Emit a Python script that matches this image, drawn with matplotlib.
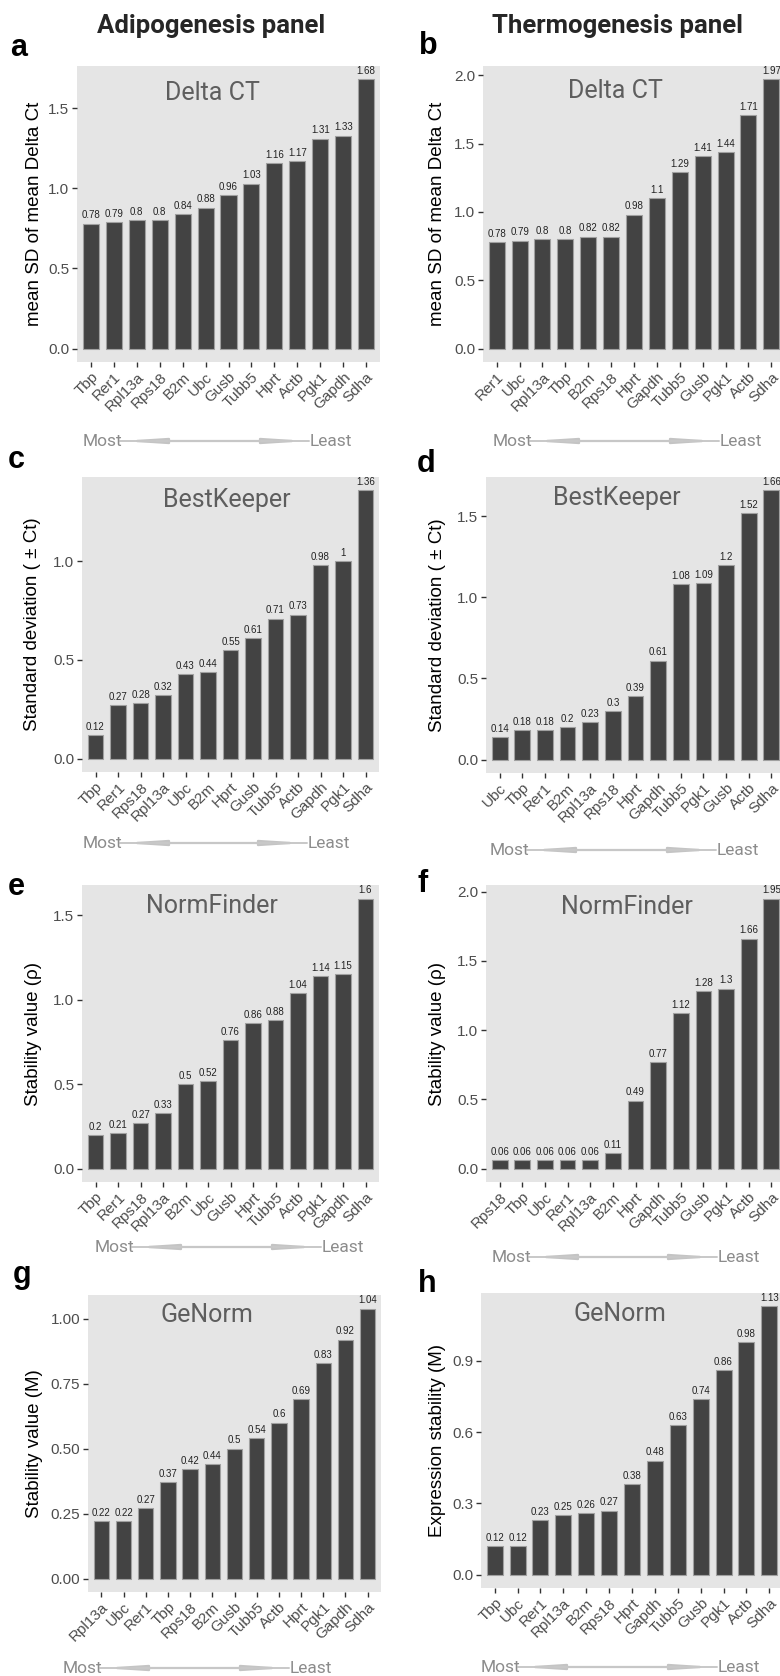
import matplotlib
matplotlib.use("Agg")
import matplotlib.pyplot as plt
from matplotlib.patches import FancyArrowPatch
import numpy as np

W, H = 780, 1676

# ---- data ----
genes_a = ['Tbp', 'Rer1', 'Rpl13a', 'Rps18', 'B2m', 'Ubc', 'Gusb', 'Tubb5', 'Hprt', 'Actb', 'Pgk1', 'Gapdh', 'Sdha']
vals_a = [0.78, 0.79, 0.8, 0.8, 0.84, 0.88, 0.96, 1.03, 1.16, 1.17, 1.31, 1.33, 1.68]

genes_b = ['Rer1', 'Ubc', 'Rpl13a', 'Tbp', 'B2m', 'Rps18', 'Hprt', 'Gapdh', 'Tubb5', 'Gusb', 'Pgk1', 'Actb', 'Sdha']
vals_b = [0.78, 0.79, 0.8, 0.8, 0.82, 0.82, 0.98, 1.1, 1.29, 1.41, 1.44, 1.71, 1.97]

genes_c = ['Tbp', 'Rer1', 'Rps18', 'Rpl13a', 'Ubc', 'B2m', 'Hprt', 'Gusb', 'Tubb5', 'Actb', 'Gapdh', 'Pgk1', 'Sdha']
vals_c = [0.12, 0.27, 0.28, 0.32, 0.43, 0.44, 0.55, 0.61, 0.71, 0.73, 0.98, 1, 1.36]

genes_d = ['Ubc', 'Tbp', 'Rer1', 'B2m', 'Rpl13a', 'Rps18', 'Hprt', 'Gapdh', 'Tubb5', 'Pgk1', 'Gusb', 'Actb', 'Sdha']
vals_d = [0.14, 0.18, 0.18, 0.2, 0.23, 0.3, 0.39, 0.61, 1.08, 1.09, 1.2, 1.52, 1.66]

genes_e = ['Tbp', 'Rer1', 'Rps18', 'Rpl13a', 'B2m', 'Ubc', 'Gusb', 'Hprt', 'Tubb5', 'Actb', 'Pgk1', 'Gapdh', 'Sdha']
vals_e = [0.2, 0.21, 0.27, 0.33, 0.5, 0.52, 0.76, 0.86, 0.88, 1.04, 1.14, 1.15, 1.6]

genes_f = ['Rps18', 'Tbp', 'Ubc', 'Rer1', 'Rpl13a', 'B2m', 'Hprt', 'Gapdh', 'Tubb5', 'Gusb', 'Pgk1', 'Actb', 'Sdha']
vals_f = [0.06, 0.06, 0.06, 0.06, 0.06, 0.11, 0.49, 0.77, 1.12, 1.28, 1.3, 1.66, 1.95]

genes_g = ['Rpl13a', 'Ubc', 'Rer1', 'Tbp', 'Rps18', 'B2m', 'Gusb', 'Tubb5', 'Actb', 'Hprt', 'Pgk1', 'Gapdh', 'Sdha']
vals_g = [0.22, 0.22, 0.27, 0.37, 0.42, 0.44, 0.5, 0.54, 0.6, 0.69, 0.83, 0.92, 1.04]

genes_h = ['Tbp', 'Ubc', 'Rer1', 'Rpl13a', 'B2m', 'Rps18', 'Hprt', 'Gapdh', 'Tubb5', 'Gusb', 'Pgk1', 'Actb', 'Sdha']
vals_h = [0.12, 0.12, 0.23, 0.25, 0.26, 0.27, 0.38, 0.48, 0.63, 0.74, 0.86, 0.98, 1.13]

methods = ['Delta CT', 'Delta CT', 'BestKeeper', 'BestKeeper', 'NormFinder', 'NormFinder', 'GeNorm', 'GeNorm']
ylabels = ['mean SD of mean Delta Ct', 'mean SD of mean Delta Ct',
           'Standard deviation ( \u00b1 Ct)', 'Standard deviation ( \u00b1 Ct)',
           'Stability value (\u03c1)', 'Stability value (\u03c1)',
           'Stability value (M)', 'Expression stability (M)']
yticks_list = [[0, 0.5, 1.0, 1.5], [0, 0.5, 1.0, 1.5, 2.0],
               [0, 0.5, 1.0], [0, 0.5, 1.0, 1.5],
               [0, 0.5, 1.0, 1.5], [0, 0.5, 1.0, 1.5, 2.0],
               [0, 0.25, 0.5, 0.75, 1.0], [0, 0.3, 0.6, 0.9]]
yfmt = ['%.1f'] * 6 + ['%.2f', '%.1f']
letters = list('abcdefgh')

genes_all = [genes_a, genes_b, genes_c, genes_d, genes_e, genes_f, genes_g, genes_h]
vals_all = [vals_a, vals_b, vals_c, vals_d, vals_e, vals_f, vals_g, vals_h]

# panel boxes in pixels: left, right, top, bottom
boxes = [(77, 380, 66, 362), (483, 785, 66, 362),
         (82, 379, 477, 772), (486, 785, 477, 773),
         (82, 379, 885, 1182), (486, 785, 885, 1182),
         (88, 381, 1295, 1592), (481, 783, 1293, 1588)]
ylab_x = [35, 437, 33, 438, 33, 437, 35, 437]
# method title (center x, baseline y)
mtitle = [(212, 100), (615, 98), (227, 507), (617, 505), (212, 913), (627, 914), (207, 1322), (620, 1321)]
# letter (left x, baseline y)
letter_pos = [(10, 56), (419, 54), (8, 468), (417, 472), (8, 895), (417, 892), (13, 1283), (418, 1292)]
# most / least: most left x, least left x, baseline y
ml = [(83, 310, 446), (493, 720, 446), (83, 308, 848), (490, 717, 855),
      (95, 322, 1252), (492, 718, 1262), (63, 290, 1673), (481, 718, 1672)]

fig = plt.figure(figsize=(W / 100, H / 100), dpi=100)

def fx(x):
    return x / W

def fy(y):
    return 1 - y / H

sans = ['Liberation Sans', 'DejaVu Sans']
rob = ['Roboto', 'DejaVu Sans']

for i in range(8):
    l, r, t, b = boxes[i]
    ax = fig.add_axes([fx(l), fy(b), (r - l) / W, (b - t) / H])
    g = genes_all[i]
    v = np.array(vals_all[i])
    x = np.arange(len(g))
    ax.set_facecolor('#E5E5E5')
    ax.bar(x, v, width=0.7, color='#434343', edgecolor='#A0A0A0', linewidth=0.8, zorder=2)
    for xi, vi in zip(x, v):
        ax.text(xi, vi + v.max() * 0.012, ('%.2f' % vi).rstrip('0').rstrip('.'), ha='center', va='bottom',
                fontsize=7, color='#222222', family=sans)
    ax.set_xlim(-0.6, len(g) - 0.4)
    ax.set_ylim(-0.05 * v.max(), 1.05 * v.max())
    ax.set_xticks(x)
    ax.set_xticklabels(g, rotation=45, ha='right', va='top', rotation_mode='anchor',
                       fontsize=11, color='#4D4D4D', family=sans)
    ax.set_yticks(yticks_list[i])
    ax.set_yticklabels([yfmt[i] % t_ for t_ in yticks_list[i]], fontsize=11, color='#4D4D4D', family=sans)
    ax.tick_params(length=3.5, width=1, color='#333333', pad=2)
    for s in ax.spines.values():
        s.set_visible(False)

    fig.text(fx(ylab_x[i]), fy((t + b) / 2), ylabels[i], rotation=90, ha='center', va='center',
             fontsize=13.5, color='black', family=sans)
    fig.text(fx(mtitle[i][0]), fy(mtitle[i][1]), methods[i], ha='center', va='baseline',
             fontsize=18, color='#5E5E5E', family=rob)
    fig.text(fx(letter_pos[i][0]), fy(letter_pos[i][1]), letters[i], ha='left', va='baseline',
             fontsize=22, fontweight='bold', color='black', family=sans)

    mx, lx, by = ml[i]
    fig.text(fx(mx), fy(by), 'Most', ha='left', va='baseline', fontsize=12.5, color='#8C8C8C', family=rob)
    fig.text(fx(lx), fy(by), 'Least', ha='left', va='baseline', fontsize=12.5, color='#8C8C8C', family=rob)
    p0 = (fx(mx + 37), fy(by - 5))
    p1 = (fx(lx - 1), fy(by - 5))
    arr = FancyArrowPatch(p0, p1, transform=fig.transFigure, shrinkA=0, shrinkB=0,
                          arrowstyle='<|-|>,head_length=2.3,head_width=0.15',
                          mutation_scale=10, facecolor='#EEEEEE', edgecolor='#C4C4C4', linewidth=1.6)
    fig.patches.append(arr)
    shaft = FancyArrowPatch(p0, p1, transform=fig.transFigure, shrinkA=0, shrinkB=0,
                            arrowstyle='-', color='#C8C8C8', linewidth=1.4)
    fig.patches.append(shaft)

fig.text(fx(211), fy(33), 'Adipogenesis panel', ha='center', va='baseline',
         fontsize=18.5, fontweight='bold', color='#262626', family=rob)
fig.text(fx(618), fy(33), 'Thermogenesis panel', ha='center', va='baseline',
         fontsize=18.5, fontweight='bold', color='#262626', family=rob)

fig.savefig('out.png', dpi=100, facecolor='white')
